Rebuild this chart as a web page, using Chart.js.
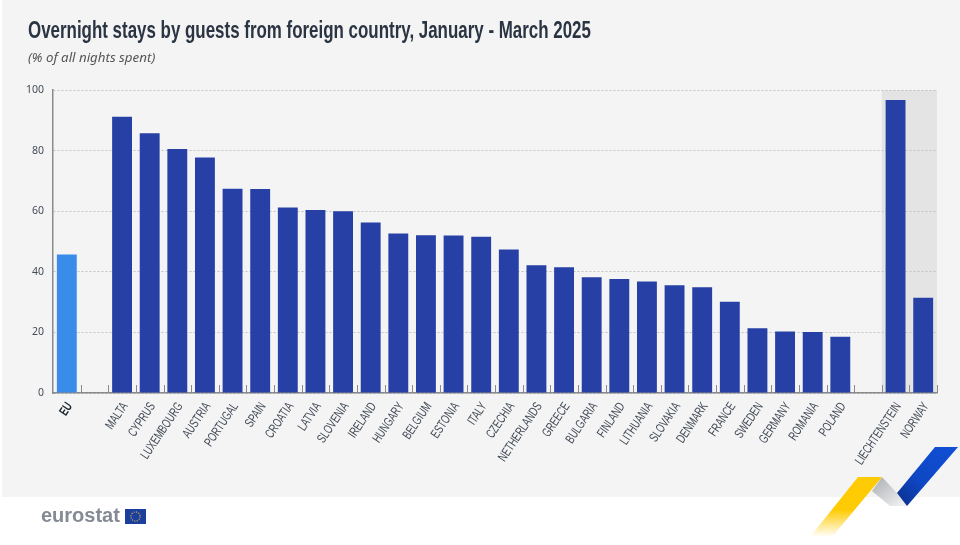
<!DOCTYPE html>
<html>
<head>
<meta charset="utf-8">
<title>Overnight stays</title>
<script src="https://cdn.jsdelivr.net/npm/chart.js@4"></script>
<style>
  html, body { margin: 0; padding: 0; background: #fff; }
  #page { position: relative; width: 960px; height: 545px; overflow: hidden; }
  #panel { position: absolute; left: 2px; top: 0; right: 0; height: 497px; background: #f4f4f4; }
  #chart { position: absolute; left: 0; top: 0; }
  #title { position: absolute; left: 28px; top: 16px; font: bold 24px "Liberation Sans", sans-serif; color: #2a3442; white-space: nowrap; transform: scaleX(0.705); transform-origin: 0 0; }
  #subtitle { position: absolute; left: 28px; top: 48px; font: italic 13.3px "Noto Sans", sans-serif; color: #555; white-space: nowrap; }
  #logo { position: absolute; left: 41px; top: 504px; font: bold 20px "Liberation Sans", sans-serif; color: #858a94; }
  svg { position: absolute; }
</style>
</head>
<body>
<div id="page">
  <div id="panel"></div>
  <svg id="ribbon" width="960" height="545" style="left:0;top:0">
    <defs>
      <linearGradient id="yellow" x1="0" y1="0" x2="0" y2="1">
        <stop offset="0" stop-color="#ffcb05"/>
        <stop offset="0.55" stop-color="#ffcb05"/>
        <stop offset="1" stop-color="#ffffff"/>
      </linearGradient>
      <linearGradient id="grey" x1="0" y1="0" x2="1" y2="1">
        <stop offset="0" stop-color="#a9adb2"/>
        <stop offset="1" stop-color="#f6f6f6"/>
      </linearGradient>
      <linearGradient id="blue" x1="1" y1="0" x2="0" y2="1">
        <stop offset="0" stop-color="#0f4fd6"/>
        <stop offset="0.6" stop-color="#0f47c4"/>
        <stop offset="1" stop-color="#0c2f8c"/>
      </linearGradient>
    </defs>
    <polygon points="882,477 872,491 890,506 907,506 897,493" fill="url(#grey)"/>
    <polygon points="858,477 882,477 832,537 810,537" fill="url(#yellow)"/>
    <polygon points="935,447 958,447 907,506 897,493" fill="url(#blue)"/>
  </svg>
  <canvas id="chart" width="960" height="545"></canvas>
  <div id="title">Overnight stays by guests from foreign country, January - March 2025</div>
  <div id="subtitle">(% of all nights spent)</div>
  <div id="logo">eurostat</div>
  <svg width="21" height="15" style="left:124.5px;top:509px" viewBox="0 0 21 15">
    <rect width="21" height="15" fill="#1c3f9e"/>
    <circle cx="10.5" cy="7.5" r="4.6" fill="none" stroke="#d8b93a" stroke-width="1.1" stroke-dasharray="1.1 1.3"/>
  </svg>
</div>
<script>
const categories = ['EU', '', 'MALTA', 'CYPRUS', 'LUXEMBOURG', 'AUSTRIA', 'PORTUGAL', 'SPAIN', 'CROATIA', 'LATVIA',
  'SLOVENIA', 'IRELAND', 'HUNGARY', 'BELGIUM', 'ESTONIA', 'ITALY', 'CZECHIA', 'NETHERLANDS', 'GREECE', 'BULGARIA',
  'FINLAND', 'LITHUANIA', 'SLOVAKIA', 'DENMARK', 'FRANCE', 'SWEDEN', 'GERMANY', 'ROMANIA', 'POLAND', ' ',
  'LIECHTENSTEIN', 'NORWAY'];
const values = [45.7, null, 91.2, 85.7, 80.5, 77.7, 67.4, 67.3, 61.2, 60.4,
  60.0, 56.3, 52.6, 52.1, 52.0, 51.6, 47.4, 42.2, 41.5, 38.2,
  37.6, 36.8, 35.6, 34.9, 30.1, 21.4, 20.3, 20.1, 18.6, null,
  96.7, 31.4];
const yTicks = [0, 20, 40, 60, 80, 100];
const firstBandCategory = 'LIECHTENSTEIN';

// grey band behind the non-EU countries
const bandPlugin = {
  id: 'band',
  beforeDraw(chart) {
    const { ctx, chartArea, scales } = chart;
    const step = scales.x.getPixelForValue(1) - scales.x.getPixelForValue(0);
    const left = scales.x.getPixelForValue(categories.indexOf(firstBandCategory)) - step / 2;
    ctx.save();
    ctx.fillStyle = '#e4e4e4';
    ctx.fillRect(left, chartArea.top, chartArea.right - left, chartArea.bottom - chartArea.top);
    ctx.restore();
  }
};

// short ticks between categories, and the narrow slanted labels chart.js can't squeeze itself
const axisTicksPlugin = {
  id: 'axisTicks',
  afterDraw(chart) {
    const { ctx, chartArea, scales } = chart;
    const step = scales.x.getPixelForValue(1) - scales.x.getPixelForValue(0);
    ctx.save();
    ctx.strokeStyle = '#8a8a8a';
    ctx.lineWidth = 1;
    categories.forEach((c, i) => {
      const x = Math.round(scales.x.getPixelForValue(i) + step / 2) + 0.5;
      ctx.beginPath();
      ctx.moveTo(x, chartArea.bottom);
      ctx.lineTo(x, chartArea.bottom - 8);
      ctx.stroke();
    });
    ctx.textAlign = 'right';
    ctx.textBaseline = 'middle';
    categories.forEach((c, i) => {
      ctx.save();
      ctx.translate(scales.x.getPixelForValue(i) + 3, chartArea.bottom + 11);
      ctx.rotate(-56 * Math.PI / 180);
      ctx.scale(0.7, 1);
      ctx.fillStyle = i === 0 ? '#1d2530' : '#444c58';
      ctx.font = (i === 0 ? 'bold ' : '') + '13px "Liberation Sans", sans-serif';
      ctx.fillText(c, 0, 0);
      ctx.restore();
    });
    ctx.restore();
  }
};

new Chart(document.getElementById('chart'), {
  type: 'bar',
  data: {
    labels: categories,
    datasets: [{
      data: values,
      backgroundColor: categories.map(c => c === 'EU' ? '#398ce8' : '#2740a6'),
      barPercentage: 0.72,
      categoryPercentage: 1
    }]
  },
  plugins: [bandPlugin, axisTicksPlugin],
  options: {
    responsive: false,
    animation: false,
    layout: { padding: { top: 90, right: 23, left: 0, bottom: 0 } },
    plugins: { legend: { display: false }, tooltip: { enabled: false } },
    scales: {
      x: {
        afterFit(scale) { scale.height = 152; },
        grid: { display: false },
        border: { color: '#8a8a8a', width: 1.5 },
        ticks: { display: false, autoSkip: false }
      },
      y: {
        min: 0,
        max: 100,
        afterFit(scale) { scale.width = 53; },
        afterBuildTicks(scale) { scale.ticks = yTicks.map(v => ({ value: v })); },
        border: { color: '#8a8a8a', width: 1.5, dash: [2, 2], dashOffset: 0 },
        grid: {
          color: '#c2c2c2',
          lineWidth: 1,
          drawTicks: false
        },
        ticks: {
          padding: 9,
          color: '#444c58',
          font: { family: '"Noto Sans", sans-serif', size: 10.5 }
        }
      }
    }
  }
});
</script>
</body>
</html>
